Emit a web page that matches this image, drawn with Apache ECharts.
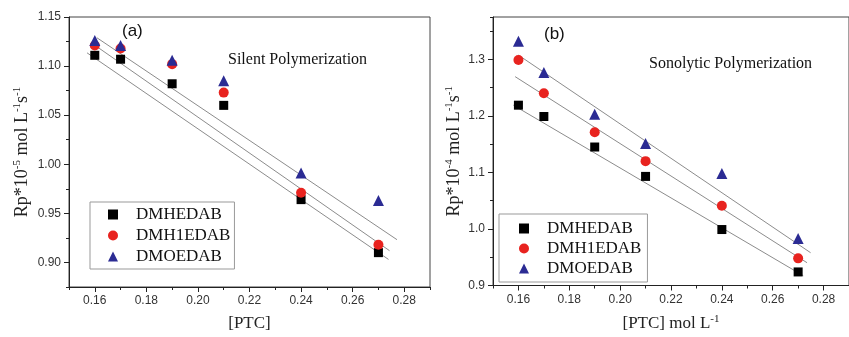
<!DOCTYPE html>
<html><head><meta charset="utf-8">
<script src="https://cdn.jsdelivr.net/npm/echarts@6/dist/echarts.min.js"></script>
<style>html,body{margin:0;padding:0;background:#fff}#c{width:849px;height:337px}</style>
</head><body><div id="c"></div>
<script>
// ---- data ----
const ptc = [0.16, 0.17, 0.19, 0.21, 0.24, 0.27];
const seriesNames = ['DMHEDAB', 'DMH1EDAB', 'DMOEDAB'];
// (a) Silent polymerization, Rp*10^-5
const silentDMHEDAB  = [1.111, 1.107, 1.082, 1.060, 0.964, 0.910];
const silentDMH1EDAB = [1.121, 1.118, 1.102, 1.073, 0.971, 0.918];
const silentDMOEDAB  = [1.126, 1.121, 1.106, 1.085, 0.991, 0.963];
// fit line endpoints [x, y]
const silentFitDMHEDAB  = [[0.157, 1.1135], [0.2739, 0.9031]];
const silentFitDMH1EDAB = [[0.159, 1.1231], [0.2743, 0.9120]];
const silentFitDMOEDAB  = [[0.1608, 1.1289], [0.2772, 0.9232]];
// (b) Sonolytic polymerization, Rp*10^-4
const sonoDMHEDAB  = [1.219, 1.199, 1.145, 1.093, 0.999, 0.924];
const sonoDMH1EDAB = [1.299, 1.240, 1.171, 1.120, 1.041, 0.948];
const sonoDMOEDAB  = [1.332, 1.277, 1.203, 1.151, 1.098, 0.983];
const sonoFitDMHEDAB  = [[0.158, 1.219], [0.272, 0.9174]];
const sonoFitDMH1EDAB = [[0.1587, 1.2695], [0.2735, 0.9403]];
const sonoFitDMOEDAB  = [[0.16, 1.3076], [0.2749, 0.958]];
// ticks
const xMajorTicks = [0.16, 0.18, 0.20, 0.22, 0.24, 0.26, 0.28];
const yMajorTicksA = [0.90, 0.95, 1.00, 1.05, 1.10, 1.15];
const yMajorTicksB = [0.9, 1.0, 1.1, 1.2, 1.3];

// ---- styles ----
const colors = ['#000000', '#e8231f', '#2b2b93'];
const symbols = ['rect', 'circle', 'triangle'];
const symSizes = [9, 10, 11];
const serif = 'Liberation Serif';
const sans = 'Liberation Sans';
const axisColor = '#222';

function pairs(xs, ys) { return xs.map((x, i) => [x, ys[i]]); }

function xAxesFor(gi, nameRich) {
  const base = {
    gridIndex: gi, type: 'value', min: 0.15, max: 0.29, position: 'bottom',
    splitLine: {show: false}
  };
  return [
    Object.assign({}, base, {
      interval: 0.01,
      axisLine: {show: true, onZero: false, lineStyle: {color: axisColor, width: 1}},
      axisTick: {show: true, length: 3, lineStyle: {color: axisColor}},
      axisLabel: {customValues: xMajorTicks, formatter: v => v.toFixed(2), fontFamily: sans, fontSize: 12, color: '#333', margin: 8},
      name: nameRich.text, nameLocation: 'middle', nameGap: 28,
      nameTextStyle: {fontFamily: serif, fontSize: 17, color: '#222', rich: nameRich.rich}
    }),
    Object.assign({}, base, {
      axisLine: {show: false},
      axisTick: {show: true, customValues: xMajorTicks, length: 5, lineStyle: {color: axisColor}},
      axisLabel: {show: false}
    })
  ];
}

function yAxesFor(gi, min, max, minorInt, majors, dec, nameText, nameGap) {
  const base = {gridIndex: gi, type: 'value', min: min, max: max, position: 'left', splitLine: {show: false}};
  return [
    Object.assign({}, base, {
      interval: minorInt,
      axisLine: {show: true, onZero: false, lineStyle: {color: axisColor, width: 1}},
      axisTick: {show: true, length: 3, lineStyle: {color: axisColor}},
      axisLabel: {customValues: majors, formatter: v => v.toFixed(dec), fontFamily: sans, fontSize: 12, color: '#333', margin: 8},
      name: nameText, nameLocation: 'middle', nameRotate: 90, nameGap: nameGap,
      nameTextStyle: {
        fontFamily: serif, fontSize: 18, color: '#222',
        rich: {
          n: {fontFamily: serif, fontSize: 18, color: '#222', lineHeight: 20},
          s: {fontFamily: serif, fontSize: 11, color: '#222', verticalAlign: 'top', lineHeight: 20}
        }
      }
    }),
    Object.assign({}, base, {
      axisLine: {show: false},
      axisTick: {show: true, customValues: majors, length: 5, lineStyle: {color: axisColor}},
      axisLabel: {show: false}
    })
  ];
}

const chart = echarts.init(document.getElementById('c'), null, {renderer: 'canvas'});

const xA = xAxesFor(0, {text: '[PTC]', rich: {}});
const xB = xAxesFor(1, {
  text: '{n|[PTC] mol L}{s|-1}',
  rich: {
    n: {fontFamily: serif, fontSize: 17, color: '#222', lineHeight: 20},
    s: {fontFamily: serif, fontSize: 11, color: '#222', verticalAlign: 'top', lineHeight: 20}
  }
});
const yA = yAxesFor(0, 0.875, 1.15, 0.025, yMajorTicksA, 2,
  '{n|Rp*10}{s|-5}{n| mol L}{s|-1}{n|s}{s|-1}', 37);
const yB = yAxesFor(1, 0.9, 1.375, 0.05, yMajorTicksB, 1,
  '{n|Rp*10}{s|-4}{n| mol L}{s|-1}{n|s}{s|-1}', 29);

const xAxes = xA.concat(xB);   // indices 0,1 grid0 ; 2,3 grid1
const yAxes = yA.concat(yB);

const silentVals = [silentDMHEDAB, silentDMH1EDAB, silentDMOEDAB];
const silentFits = [silentFitDMHEDAB, silentFitDMH1EDAB, silentFitDMOEDAB];
const sonoVals = [sonoDMHEDAB, sonoDMH1EDAB, sonoDMOEDAB];
const sonoFits = [sonoFitDMHEDAB, sonoFitDMH1EDAB, sonoFitDMOEDAB];

const series = [];
function addPanel(vals, fits, xi, yi) {
  fits.forEach(f => series.push({
    type: 'line', xAxisIndex: xi, yAxisIndex: yi, data: f, showSymbol: false, symbol: 'none',
    lineStyle: {color: '#8c8c8c', width: 1}, silent: true, z: 1
  }));
  vals.forEach((v, i) => series.push({
    type: 'scatter', name: seriesNames[i], xAxisIndex: xi, yAxisIndex: yi,
    data: pairs(ptc, v), symbol: symbols[i], symbolSize: symSizes[i],
    itemStyle: {color: colors[i], opacity: 1}, z: 3
  }));
}
addPanel(silentVals, silentFits, 0, 0);
addPanel(sonoVals, sonoFits, 2, 2);

const legendCommon = {
  orient: 'vertical', data: seriesNames, itemWidth: 10, itemHeight: 10,
  borderColor: '#999', borderWidth: 1, backgroundColor: '#fff',
  textStyle: {fontFamily: serif, fontSize: 17, color: '#111', padding: [0, 0, 0, 13], lineHeight: 16},
  selectedMode: false
};

chart.setOption({
  animation: false,
  backgroundColor: '#fff',
  grid: [
    {left: 69, top: 17, width: 361, height: 270, show: true, borderColor: '#444', borderWidth: 1, backgroundColor: 'transparent'},
    {left: 493, top: 17, width: 367, height: 270, show: true, borderColor: '#444', borderWidth: 1, backgroundColor: 'transparent'}
  ],
  xAxis: xAxes,
  yAxis: yAxes,
  legend: [
    Object.assign({}, legendCommon, {left: 90, top: 202, itemGap: 4, padding: [4, 4, 4, 18]}),
    Object.assign({}, legendCommon, {left: 499, top: 214, itemGap: 3, padding: [6, 6, 5, 20]})
  ],
  graphic: [
    {type: 'text', left: 122, top: 23, style: {text: '(a)', fontFamily: sans, fontSize: 17, fill: '#111'}},
    {type: 'text', left: 228, top: 52, style: {text: 'Silent Polymerization', fontFamily: serif, fontSize: 16, fill: '#111'}},
    {type: 'text', left: 544, top: 26, style: {text: '(b)', fontFamily: sans, fontSize: 17, fill: '#111'}},
    {type: 'text', left: 649, top: 56, style: {text: 'Sonolytic Polymerization', fontFamily: serif, fontSize: 16, fill: '#111'}}
  ],
  series: series
});
</script>
</body></html>
